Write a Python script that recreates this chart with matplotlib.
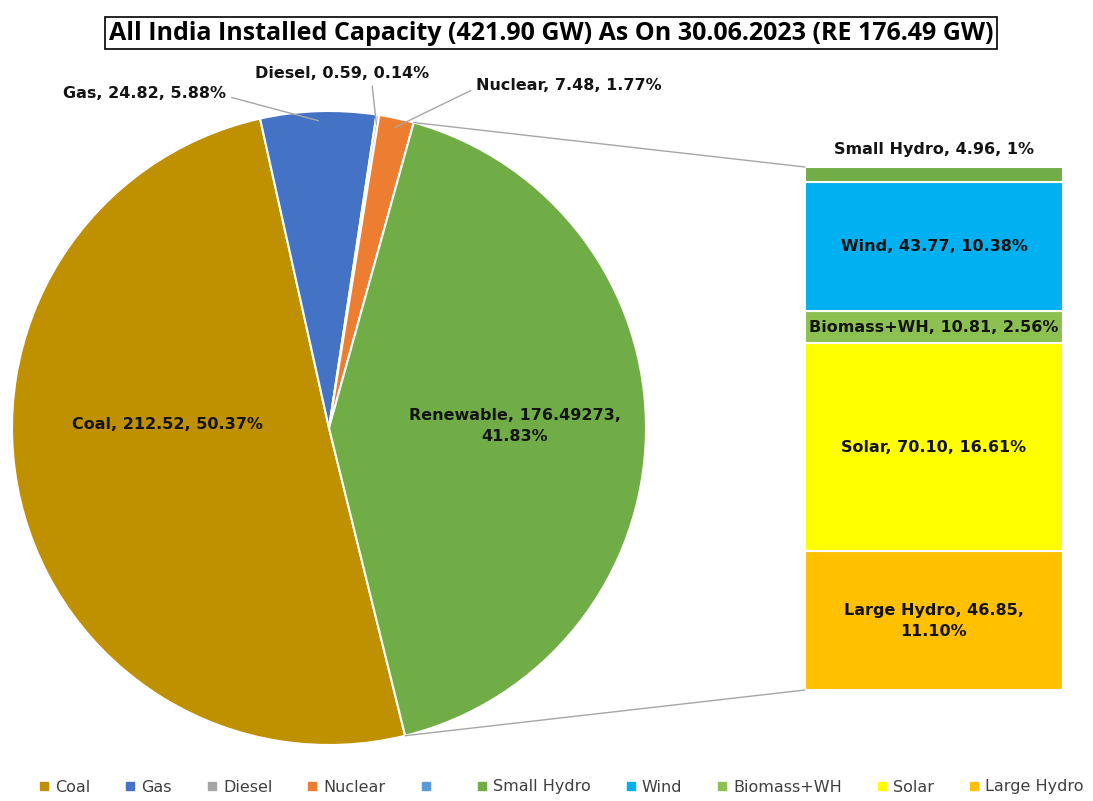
import numpy as np
import matplotlib.pyplot as plt
from matplotlib.patches import ConnectionPatch
from matplotlib.lines import Line2D

plt.rcParams['font.family'] = ['DejaVu Sans']

# pie data (main sources, renewable grouped)
pie_labels = ["Coal", "Gas", "Diesel", "Nuclear", "Renewable"]
pie_values = [212.52, 24.82, 0.59, 7.48, 176.49273]
pie_pcts = ["50.37%", "5.88%", "0.14%", "1.77%", "41.83%"]
pie_colors = ["#BF9000", "#4472C4", "#A5A5A5", "#ED7D31", "#70AD47"]

# renewable breakdown, top to bottom as in the bar
re_labels = ["Small Hydro", "Wind", "Biomass+WH", "Solar", "Large Hydro"]
re_values = [4.96, 43.77, 10.81, 70.10, 46.85]
re_pcts = ["1%", "10.38%", "2.56%", "16.61%", "11.10%"]
re_colors = ["#70AD47", "#00B0F0", "#8CC152", "#FFFF00", "#FFC000"]

total = 421.90
re_total = 176.49

txt_col = "#141414"
fs = 11.5
fig = plt.figure(figsize=(10.93, 8.01), dpi=100)

# pie
ax = fig.add_axes([12 / 1093, 56 / 801, 634 / 1093, 634 / 801])
wedges, _ = ax.pie(pie_values, colors=pie_colors, startangle=283.9, counterclock=False,
                   wedgeprops=dict(edgecolor="white", linewidth=1.5))
ax.set_xlim(-1, 1)
ax.set_ylim(-1, 1)
ax.axis("off")


def to_data(px, py):
    return ((px - 329) / 317, (428 - py) / 317)


# labels inside the big slices
ax.text(*to_data(167, 425), f"Coal, {pie_values[0]:.2f}, {pie_pcts[0]}", ha="center", va="center",
        fontsize=fs, fontweight="bold", color=txt_col)
ax.text(*to_data(515, 426), f"Renewable, {pie_values[4]:.5f},\n{pie_pcts[4]}", ha="center", va="center",
        fontsize=fs, fontweight="bold", color=txt_col, linespacing=1.5)

# outside labels with leader lines
outside = {1: (to_data(226, 93), "right", (1, 0.3)),
           2: (to_data(342, 73), "center", (0.67, 0.0)),
           3: (to_data(476, 85), "left", (0, 0.3))}
for i, (xyt, ha, rel) in outside.items():
    w = wedges[i]
    mid = np.deg2rad((w.theta1 + w.theta2) / 2)
    ax.annotate(f"{pie_labels[i]}, {pie_values[i]:.2f}, {pie_pcts[i]}",
                xy=(np.cos(mid) * 0.97, np.sin(mid) * 0.97), xytext=xyt,
                ha=ha, va="center", fontsize=fs, fontweight="bold", color=txt_col,
                arrowprops=dict(arrowstyle="-", color="#A6A6A6", lw=1, relpos=rel,
                                shrinkA=2, shrinkB=0))

# stacked bar of renewables
bx = fig.add_axes([805 / 1093, 111 / 801, 258 / 1093, 523 / 801])
bottom = 0
for lab, val, pct, col in reversed(list(zip(re_labels, re_values, re_pcts, re_colors))):
    bx.bar(0, val, width=1.0, bottom=bottom, color=col, edgecolor="white", linewidth=1.5)
    mid = bottom + val / 2
    if lab == "Small Hydro":
        bx.text(0, bottom + val + 3.5, f"{lab}, {val:.2f}, {pct}", ha="center", va="bottom",
                fontsize=fs, fontweight="bold", color=txt_col)
    elif lab == "Large Hydro":
        bx.text(0, mid, f"{lab}, {val:.2f},\n{pct}", ha="center", va="center",
                fontsize=fs, fontweight="bold", color=txt_col, linespacing=1.5)
    else:
        bx.text(0, mid, f"{lab}, {val:.2f}, {pct}", ha="center", va="center",
                fontsize=fs, fontweight="bold", color=txt_col)
    bottom += val
bx.set_xlim(-0.5, 0.5)
bx.set_ylim(0, re_total)
bx.axis("off")

# connector lines from the renewable slice to the bar
rw = wedges[4]
ends = sorted([rw.theta1, rw.theta2], key=lambda a: np.sin(np.deg2rad(a)))
for ang, yb in zip(ends, [0, re_total]):
    a = np.deg2rad(ang)
    con = ConnectionPatch(xyA=(np.cos(a), np.sin(a)), coordsA=ax.transData,
                          xyB=(-0.5, yb), coordsB=bx.transData, color="#A6A6A6", lw=1)
    fig.add_artist(con)

# title
fig.text(0.504, 1 - 33 / 801,
         f"All India Installed Capacity ({total:.2f} GW) As On 30.06.2023 (RE {re_total:.2f} GW)",
         ha="center", va="center", fontsize=18, fontweight="bold", color="black",
         family=["Open Sans", "DejaVu Sans"],
         bbox=dict(boxstyle="square,pad=0.15", facecolor="white", edgecolor="black", lw=1.2))

# legend
leg_labels = pie_labels[:4] + [" "] + re_labels
leg_colors = pie_colors[:4] + ["#5B9BD5"] + re_colors
handles = [Line2D([], [], marker="s", linestyle="", markersize=6, color=c) for c in leg_colors]
fig.legend(handles, leg_labels, loc="center", bbox_to_anchor=(0.513, 1 - 787 / 801), ncol=10,
           frameon=False, fontsize=11.5, handlelength=0.8, handletextpad=0.3, columnspacing=2.1,
           labelcolor="#404040")

fig.savefig("out.png", dpi=100)
